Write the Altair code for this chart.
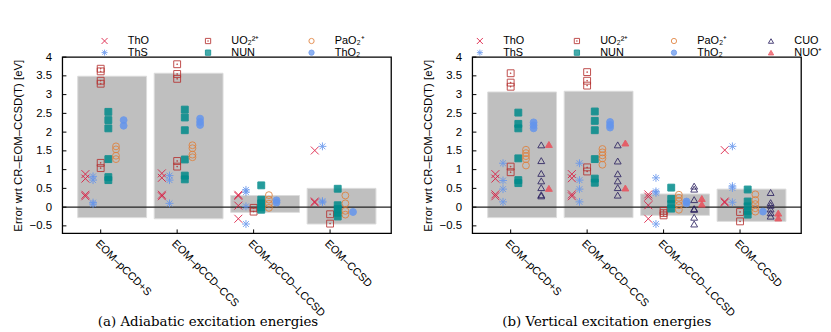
import altair as alt
import pandas as pd

# ---------------- data ----------------
categories = ["EOM–pCCD+S", "EOM–pCCD–CCS", "EOM–pCCD–LCCSD", "EOM–CCSD"]
cat_index = [1, 2, 3, 4]

species_adi = ["ThO", "ThS", "UO₂²⁺", "NUN", "PaO₂⁺", "ThO₂"]
species_vert = ["ThO", "ThS", "UO₂²⁺", "NUN", "PaO₂⁺", "ThO₂", "CUO", "NUO⁺"]

# (a) adiabatic excitation energies: per category lists of errors [eV]
adi_ThO = [[0.88, 0.76, 0.33, 0.29], [0.90, 0.78, 0.33, 0.29], [0.33, 0.30, 0.04, -0.31], [1.51, 0.15, 0.12]]
adi_ThS = [[0.82, 0.72, 0.12, 0.08], [0.84, 0.72, 0.10], [0.46, 0.40, 0.02, -0.45], [1.62, 0.16, 0.13]]
adi_UO2 = [[3.69, 3.62, 3.37, 3.29, 1.18, 1.04], [3.81, 3.55, 3.42, 1.23, 1.08], [-0.02, -0.12], [-0.19, -0.44]]
adi_NUN = [[2.54, 2.32, 2.10, 1.28, 0.80, 0.72], [2.60, 2.39, 2.05, 1.27, 0.84, 0.74],
           [0.58, 0.20, 0.10, 0.00, -0.07], [0.49, 0.05, -0.05, -0.15, -0.25]]
adi_PaO2 = [[1.62, 1.54, 1.37, 1.28], [1.65, 1.57, 1.40, 1.33], [0.32, 0.20, 0.09, -0.02], [0.31, 0.10, -0.10, -0.20]]
adi_ThO2 = [[2.32, 2.17], [2.36, 2.27, 2.19], [0.18, 0.12], [-0.13]]
adi_bar_top = [3.49, 3.57, 0.31, 0.50]
adi_bar_bottom = [-0.28, -0.31, -0.14, -0.45]

# (b) vertical excitation energies
vert_ThO = [[0.88, 0.76, 0.34, 0.29], [0.88, 0.77, 0.34, 0.29], [0.34, 0.28, 0.05, -0.31], [1.52, 0.15, 0.12]]
vert_ThS = [[1.17, 0.71, 0.48, 0.14], [1.17, 0.72, 0.48, 0.14], [0.78, 0.42, 0.38, -0.45], [1.62, 0.56, 0.51, 0.13]]
vert_UO2 = [[3.57, 3.32, 3.21, 1.08, 0.93], [3.60, 3.37, 3.24, 1.06, 0.95], [-0.10, -0.16, -0.22], [-0.13, -0.38]]
vert_NUN = [[2.52, 2.22, 2.10, 1.30, 0.72, 0.64], [2.55, 2.30, 2.05, 1.28, 0.76, 0.65],
            [0.52, 0.22, 0.08, -0.04], [0.47, 0.15, 0.02, -0.10, -0.20]]
vert_PaO2 = [[1.53, 1.44, 1.36, 1.28, 1.11], [1.55, 1.46, 1.38, 1.30, 1.13],
             [0.33, 0.25, 0.16, 0.05, -0.07], [0.34, 0.19, 0.08, -0.03, -0.12]]
vert_ThO2 = [[2.26, 2.18, 2.10], [2.27, 2.19, 2.12], [0.15, 0.10], [-0.12]]
vert_CUO = [[1.66, 1.24, 0.90, 0.70, 0.52, 0.33, 0.30], [1.66, 1.23, 0.89, 0.70, 0.52, 0.32],
            [0.56, 0.48, 0.20, -0.04, -0.06, -0.27, -0.45], [0.39, 0.12, 0.05, -0.05, -0.15, -0.24]]
vert_NUO = [[1.67, 0.50], [1.71, 0.51], [0.23, 0.08], [-0.16, -0.29]]
vert_bar_top = [3.07, 3.09, 0.35, 0.48]
vert_bar_bottom = [-0.28, -0.28, -0.22, -0.38]

y_ticks = [-0.5, 0, 0.5, 1, 1.5, 2, 2.5, 3, 3.5, 4]

# ---------------- styles ----------------
X_PATH = "M-1.15,-1.15L1.15,1.15M1.15,-1.15L-1.15,1.15"
STAR_PATH = "M-1.15,0L1.15,0M0,-1.15L0,1.15M-0.85,-0.85L0.85,0.85M0.85,-0.85L-0.85,0.85"
SQDOT_PATH = "M-1,-1L1,-1L1,1L-1,1ZM-0.1,-0.1L0.1,-0.1L0.1,0.1L-0.1,0.1Z"

STYLE = {
    "ThO":   dict(color="#dc143c", fill="transparent", shape=X_PATH),
    "ThS":   dict(color="#6495ed", fill="transparent", shape=STAR_PATH),
    "UO₂²⁺": dict(color="#b5302f", fill="transparent", shape=SQDOT_PATH),
    "NUN":   dict(color="#008b8b", fill="#008b8b", shape="square"),
    "PaO₂⁺": dict(color="#e0803a", fill="transparent", shape="circle"),
    "ThO₂":  dict(color="#6495ed", fill="#6495ed", shape="circle"),
    "CUO":   dict(color="#2b2060", fill="transparent", shape="triangle-up"),
    "NUO⁺":  dict(color="#eb4f5a", fill="#eb4f5a", shape="triangle-up"),
}

FONT = "Liberation Sans"
XDOM = [0.5, 4.8]
YDOM = [-0.7, 4.0]
BAR_LEFT, BAR_RIGHT = -0.3, 0.6
TICK_X = 4 / 77.4
TICK_Y = 4 / 38.0


def build_panel(names, series, bar_top, bar_bottom, caption, columns, colpad, legend_x, cap_dx):
    order = names
    rows = []
    for k, (name, per_cat) in enumerate(zip(names, series)):
        off = -0.2 + 0.1 * k
        for ci, vals in zip(cat_index, per_cat):
            for v in vals:
                rows.append({"species": name, "x": ci + off, "value": v})
    pts = pd.DataFrame(rows)
    bars = pd.DataFrame({"x0": [c + BAR_LEFT for c in cat_index],
                         "x1": [c + BAR_RIGHT for c in cat_index],
                         "lo": bar_bottom, "hi": bar_top})
    xs = alt.Scale(domain=XDOM, nice=False, zero=False)
    ys = alt.Scale(domain=YDOM, nice=False, zero=False)

    label_expr = "[" + ",".join("'%s'" % c for c in categories) + "][datum.value - 1]"
    xaxis = alt.Axis(values=cat_index, labelExpr=label_expr, labelAngle=45, labelAlign="left",
                     labelBaseline="top", labelPadding=4, ticks=False, domain=False, grid=False,
                     labelOverlap=False, labelFlush=False, labelBound=False,
                     labelFont=FONT, labelFontSize=11, labelColor="#000", title=None)
    yaxis = alt.Axis(values=y_ticks, labelExpr="replace(format(datum.value, '.1~f'), '-', '−')",
                     ticks=False, domain=False, grid=False,
                     labelOverlap=False, labelFlush=False, labelBound=False,
                     labelFont=FONT, labelFontSize=11.5, labelColor="#000", labelPadding=11,
                     title="Error wrt CR–EOM–CCSD(T) [eV]", titleFont=FONT, titleFontSize=11.5,
                     titleFontWeight="normal", titleColor="#000", titlePadding=6)

    def X(f):
        return alt.X(f, scale=xs, axis=xaxis)

    def Y(f):
        return alt.Y(f, scale=ys, axis=yaxis)

    bar_layer = alt.Chart(bars).mark_rect(fill="#bfbfbf", stroke="#dcdcdc", strokeWidth=1).encode(
        x=X("x0:Q"), x2="x1:Q", y=Y("lo:Q"), y2="hi:Q")

    zero_layer = alt.Chart(pd.DataFrame({"y": [0]})).mark_rule(color="#222", strokeWidth=1.2).encode(
        y=Y("y:Q"))

    yt = pd.DataFrame({"v": y_ticks, "a": XDOM[0], "b": XDOM[0] + TICK_X})
    ytick_layer = alt.Chart(yt).mark_rule(color="#000", strokeWidth=1).encode(
        x=X("a:Q"), x2="b:Q", y=Y("v:Q"))
    xt = pd.DataFrame({"c": cat_index, "a": YDOM[0], "b": YDOM[0] + TICK_Y})
    xtick_layer = alt.Chart(xt).mark_rule(color="#000", strokeWidth=1).encode(
        x=X("c:Q"), y=Y("a:Q"), y2="b:Q")

    frame = pd.DataFrame({"x0": [XDOM[0]], "x1": [XDOM[1]], "y0": [YDOM[0]], "y1": [YDOM[1]]})
    frame_layer = alt.Chart(frame).mark_rect(fill="transparent", stroke="#000", strokeWidth=1.3).encode(
        x=X("x0:Q"), x2="x1:Q", y=Y("y0:Q"), y2="y1:Q")

    leg = alt.Legend(orient="none", legendX=legend_x, legendY=-22, columns=columns,
                     columnPadding=colpad, rowPadding=0, gridAlign="all", title=None,
                     labelFont=FONT, labelFontSize=11, labelColor="#000", labelOffset=18,
                     symbolSize=28, symbolStrokeWidth=1, padding=0)
    pt_layer = alt.Chart(pts).mark_point(strokeWidth=1, opacity=0.85, size=48).encode(
        x=X("x:Q"),
        y=Y("value:Q"),
        shape=alt.Shape("species:N", scale=alt.Scale(domain=order, range=[STYLE[s]["shape"] for s in order]), legend=leg),
        fill=alt.Fill("species:N", scale=alt.Scale(domain=order, range=[STYLE[s]["fill"] for s in order]), legend=leg),
        stroke=alt.Stroke("species:N", scale=alt.Scale(domain=order, range=[STYLE[s]["color"] for s in order]), legend=leg),
    )

    return alt.layer(bar_layer, zero_layer, ytick_layer, xtick_layer, frame_layer, pt_layer).properties(
        width=332, height=178,
        title=alt.TitleParams(caption, orient="bottom", font="DejaVu Serif", fontSize=13.5,
                              fontWeight="normal", color="#000", anchor="middle", frame="bounds",
                              offset=1, dx=cap_dx, dy=-4),
    )


left = build_panel(species_adi, [adi_ThO, adi_ThS, adi_UO2, adi_NUN, adi_PaO2, adi_ThO2],
                   adi_bar_top, adi_bar_bottom,
                   "(a) Adiabatic excitation energies", 3, 44.5, 37, 6)
right = build_panel(species_vert, [vert_ThO, vert_ThS, vert_UO2, vert_NUN, vert_PaO2, vert_ThO2, vert_CUO, vert_NUO],
                    vert_bar_top, vert_bar_bottom,
                    "(b) Vertical excitation energies", 4, 38, 2, -16)

chart = alt.hconcat(left, right, spacing=30).resolve_scale(
    x="independent", y="independent", shape="independent", fill="independent", stroke="independent"
).resolve_legend(shape="independent", fill="independent", stroke="independent"
).properties(padding={"left": 4, "top": 26, "right": 0, "bottom": 0}, background="white"
).configure_view(stroke=None)

chart.save("out.html", embed_options={"renderer": "svg", "actions": False})
